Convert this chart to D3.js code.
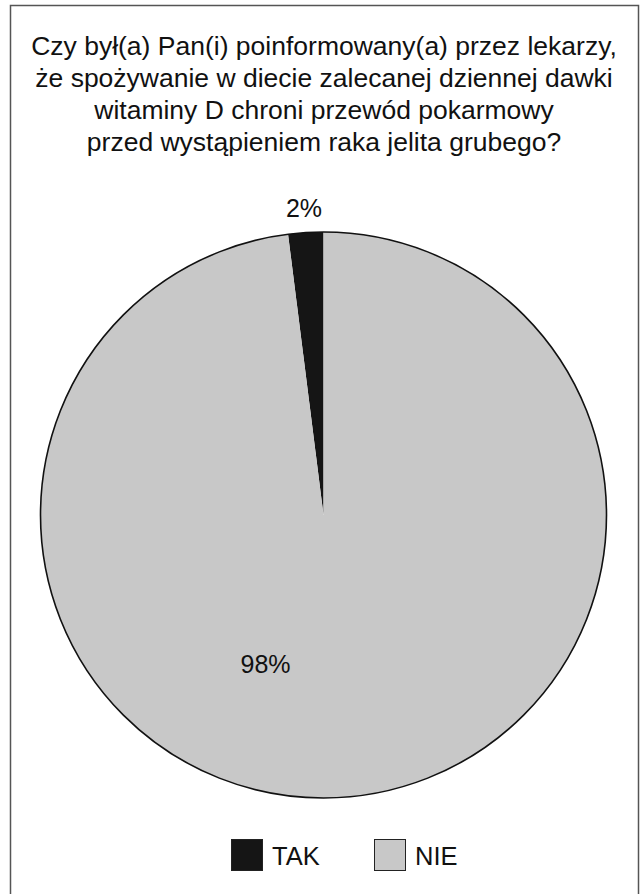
<!DOCTYPE html>
<html>
<head>
<meta charset="utf-8">
<script src="https://cdn.jsdelivr.net/npm/d3@7"></script>
<style>
  body { margin: 0; background: #fff; }
  svg text { font-family: "Liberation Sans", Arial, sans-serif; fill: #111; }
</style>
</head>
<body>
<svg id="chart" width="643" height="894"></svg>
<script>
var width = 643;
var height = 894;

// data
var categories = ["TAK", "NIE"];
var values = [2, 98];
var labels = ["2%", "98%"];
var colors = ["#151515", "#c8c8c8"];
var titleLines = [
    "Czy był(a) Pan(i) poinformowany(a) przez lekarzy,",
    "że spożywanie w diecie zalecanej dziennej dawki",
    "witaminy D chroni przewód pokarmowy",
    "przed wystąpieniem raka jelita grubego?"
];

var svg = d3.select("#chart");

// frame
svg.append("rect")
    .attr("x", 10.5)
    .attr("y", 5.5)
    .attr("width", 628)
    .attr("height", 900)
    .attr("fill", "none")
    .attr("stroke", "#555")
    .attr("stroke-width", 1.5);

// title
svg.append("g")
    .selectAll("text")
    .data(titleLines)
    .enter()
    .append("text")
    .attr("x", 324)
    .attr("y", (d, i) => 55 + i * 32)
    .attr("text-anchor", "middle")
    .style("font-size", "26.5px")
    .text(d => d);

// pie
var cx = 323.5, cy = 515, radius = 283;
var rows = categories.map((c, i) => ({ name: c, value: values[i], label: labels[i] }));

var pie = d3.pie()
    .sort(null)
    .value(d => d.value)
    .startAngle(-2 * Math.PI * values[0] / 100)
    .endAngle(2 * Math.PI - 2 * Math.PI * values[0] / 100);

var arc = d3.arc().innerRadius(0).outerRadius(radius);
var color = d3.scaleOrdinal().domain(categories).range(colors);

var g = svg.append("g").attr("transform", "translate(" + cx + "," + cy + ")");

var arcs = pie(rows);

g.selectAll("path")
    .data(arcs)
    .enter()
    .append("path")
    .attr("d", arc)
    .attr("fill", d => color(d.data.name))
    .attr("stroke", "none");

g.append("circle")
    .attr("r", radius)
    .attr("fill", "none")
    .attr("stroke", "#111")
    .attr("stroke-width", 1.6);

// labels
var labelPos = { TAK: [-19.5, -298], NIE: [-58, 158] };
g.selectAll(".lbl")
    .data(arcs)
    .enter()
    .append("text")
    .attr("class", "lbl")
    .attr("x", d => labelPos[d.data.name][0])
    .attr("y", d => labelPos[d.data.name][1])
    .attr("text-anchor", "middle")
    .style("font-size", "25px")
    .text(d => d.data.label);

// legend
var legendX = d3.scalePoint().domain(categories).range([231, 374]);
var legend = svg.append("g")
    .selectAll("g")
    .data(categories)
    .enter()
    .append("g")
    .attr("transform", d => "translate(" + legendX(d) + ",839)");

legend.append("rect")
    .attr("x", 0.5)
    .attr("y", 0.5)
    .attr("width", 31)
    .attr("height", 31)
    .attr("fill", d => color(d))
    .attr("stroke", "#222")
    .attr("stroke-width", 1);

legend.append("text")
    .attr("x", 41)
    .attr("y", 26)
    .style("font-size", "25.5px")
    .text(d => d);
</script>
</body>
</html>
